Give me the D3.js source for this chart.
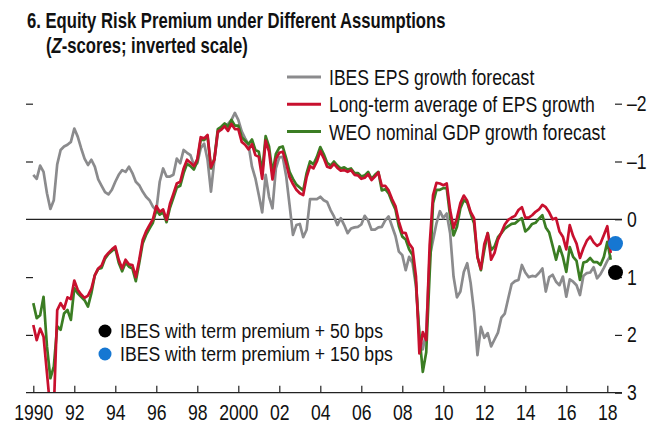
<!DOCTYPE html>
<html>
<head>
<meta charset="utf-8">
<script src="https://cdn.jsdelivr.net/npm/d3@7"></script>
<style>
body{margin:0;background:#fff;}
svg text{font-family:"Liberation Sans",Arial,sans-serif;fill:#111;}
</style>
</head>
<body>
<svg class="chart"></svg>
<script>
var width  = 665;
var height = 427;

// z-scores, one value every two months starting Jan 1990
var startYear = 1990;
var step = 1/6;

var ibes = [
 -0.77,-0.70,-0.93,-0.82,-0.45,-0.18,
 -0.33,-0.95,-1.20,-1.26,-1.29,-1.34,
 -1.57,-1.43,-1.23,-1.05,-0.94,-1.03,
 -0.91,-0.69,-0.58,-0.47,-0.43,-0.51,
 -0.65,-0.77,-0.85,-0.82,-0.91,-0.80,
 -0.65,-0.59,-0.48,-0.39,-0.33,-0.22,
 -0.15,-0.65,-0.88,-0.74,-0.74,-0.77,
 -1.05,-0.97,-1.20,-1.15,-1.11,-0.94,
 -0.97,-1.23,-1.31,-1.03,-0.48,-1.03,
 -1.49,-1.57,-1.63,-1.65,-1.72,-1.84,
 -1.72,-1.52,-1.40,-1.29,-0.91,-0.71,
 -0.42,-0.12,-0.77,-0.39,-0.19,-0.88,
 -1.07,-1.08,-0.75,-0.25, 0.27, 0.10,
  0.08, 0.31, 0.18,-0.35,-0.35,-0.35,
 -0.39,-0.33,-0.30,-0.16,-0.05, 0.10,
 -0.02, 0.10, 0.24, 0.16, 0.14, 0.13,
  0.09,-0.06, 0.02, 0.18, 0.18, 0.14,
  0.13, 0.02,-0.05, 0.12, 0.29, 0.56,
  0.62, 0.88, 0.65, 0.76, 1.16, 2.00,
  2.25, 1.95, 0.65, 0.36, 0.07,-0.14,
 -0.02,-0.10, 0.24, 0.99, 1.35, 1.25,
  0.91, 0.76, 1.10, 1.60, 2.35, 1.86,
  2.05, 1.97, 2.20, 2.08, 1.96, 1.70,
  1.63, 1.37, 1.12, 1.07, 1.05, 0.79,
  0.92, 1.00, 0.98, 0.99, 0.93, 0.85,
  1.25, 1.00, 0.96, 1.08, 1.14, 0.99,
  1.34, 1.04, 1.08, 1.14, 1.31, 0.98,
  0.93, 0.92, 0.83, 1.02, 0.95, 0.84,
  0.72, 0.62
];

var longTermAvg = [
  1.83, 2.09, 1.89, 2.03, 2.66, 3.30,
  3.30, 1.57, 1.45, 1.55, 1.35, 1.38,
  1.06, 1.22, 1.30, 1.36, 1.32, 1.20,
  0.97, 0.85, 0.80, 0.65, 0.58, 0.52,
  0.47, 0.70, 0.85, 0.70, 0.78, 0.79,
  1.00, 0.70, 0.36, 0.21, 0.10, 0.00,
 -0.23,-0.13,-0.17, 0.01,-0.27,-0.44,
 -0.62,-0.65,-0.88,-1.03,-0.98,-0.92,
 -1.04,-1.42,-1.40,-1.46,-0.90,-1.03,
 -1.52,-1.55,-1.61,-1.53,-1.65,-1.56,
 -1.56,-1.34,-1.29,-1.21,-1.30,-1.11,
 -1.08,-0.70,-1.36,-1.17,-0.69,-1.04,
 -1.15,-1.17,-0.97,-0.73,-0.61,-0.51,
 -0.45,-0.42,-0.73,-0.92,-0.88,-1.00,
 -1.18,-1.06,-0.91,-0.89,-0.96,-0.89,
 -0.84,-0.85,-0.82,-0.85,-0.77,-0.76,
 -0.70,-0.72,-0.78,-0.68,-0.74,-0.81,
 -0.58,-0.58,-0.50,-0.35,-0.23, 0.04,
  0.23, 0.24, 0.42, 0.50, 0.99, 2.32,
  1.95, 2.09, 0.45,-0.42,-0.63,-0.62,
 -0.59,-0.62,-0.16, 0.15,-0.02,-0.28,
 -0.41,-0.32,-0.13,-0.02, 0.65, 0.86,
  0.43, 0.24, 0.70, 0.58, 0.35, 0.23,
  0.09, 0.01,-0.03,-0.06,-0.16,-0.21,
 -0.03,-0.03,-0.07,-0.13,-0.17,-0.25,
 -0.21,-0.12, 0.00,-0.02, 0.21, 0.30,
  0.52, 0.10, 0.29, 0.42, 0.67, 0.50,
  0.37, 0.30, 0.40, 0.46, 0.42, 0.27,
  0.12, 0.58
];

var weoGdp = [
  1.45, 1.71, 1.66, 1.34, 2.20, 2.75,
  2.55, 1.85, 1.91, 1.63, 1.57, 1.74,
  1.19, 1.28, 1.34, 1.40, 1.51, 1.28,
  0.97, 0.86, 0.84, 0.68, 0.60, 0.55,
  0.50, 0.75, 0.90, 0.75, 0.82, 0.85,
  1.07, 0.76, 0.42, 0.27, 0.16, 0.06,
 -0.16,-0.08,-0.12, 0.05,-0.20,-0.37,
 -0.55,-0.58,-0.80,-0.96,-0.92,-0.86,
 -1.00,-1.38,-1.37,-1.44,-0.88,-1.05,
 -1.56,-1.60,-1.66,-1.60,-1.72,-1.62,
 -1.62,-1.42,-1.36,-1.30,-1.38,-1.20,
 -1.17,-0.82,-1.44,-1.26,-0.80,-1.13,
 -1.24,-1.26,-1.06,-0.82,-0.70,-0.60,
 -0.55,-0.50,-0.80,-1.00,-0.95,-1.08,
 -1.25,-1.13,-0.98,-0.93,-1.00,-0.93,
 -0.88,-0.90,-0.86,-0.88,-0.80,-0.80,
 -0.74,-0.76,-0.82,-0.70,-0.77,-0.82,
 -0.50,-0.52,-0.45,-0.30,-0.17, 0.12,
  0.30, 0.35, 0.52, 0.62, 1.10, 2.00,
  2.64, 2.30, 0.95,-0.28,-0.51,-0.51,
 -0.54,-0.54,-0.05, 0.28, 0.13,-0.19,
 -0.33,-0.29,-0.10, 0.07, 0.65, 0.88,
  0.53, 0.24, 0.53, 0.47, 0.31, 0.24,
  0.16, 0.12, 0.08, 0.07, 0.02,-0.02,
  0.21, 0.16, 0.08, 0.06,-0.01,-0.07,
  0.14, 0.23, 0.46, 0.70, 0.47, 0.65,
  0.91, 0.48, 0.65, 0.72, 1.05, 0.75,
  0.73, 0.67, 0.74, 0.74, 0.79, 0.65,
  0.39, 0.70
];

var lineNames = ["IBES EPS growth forecast","Long-term average of EPS growth","WEO nominal GDP growth forecast"];
var dotNames  = ["IBES with term premium + 50 bps","IBES with term premium + 150 bps"];
var dotValues = [0.92, 0.42];
var dotYear   = 2018.4;

var yearTicks = d3.range(1990, 2019, 2);
var zTicks    = [-2,-1,0,1,2,3];

var lineColors = ["#8b8b8d","#c8102e","#3b7d23"];
var dotColors  = ["#000000","#1677d2"];

// the reference font is a condensed sans, squeeze a regular one
function squeeze(sel,k,origin){
    sel.style("transform-box","fill-box")
       .style("transform-origin",origin)
       .style("transform",`scaleX(${k})`);
}

var svg = d3.select('.chart')
    .attr("width",width)
    .attr("height",height)

var xscale = d3.scaleLinear()
    .domain([1990,2018])
    .range([33.3,607.3]);

var yscale = d3.scaleLinear()
    .domain([-2,3])
    .range([103.7,392.7]);

var left = 26, right = 622;

// title
svg.append('text')
    .attr("x",27).attr("y",28)
    .style("font-weight","bold")
    .style("font-size","21.5px")
    .text("6. Equity Risk Premium under Different Assumptions")
    .call(squeeze,0.775,"left")

var sub = svg.append('text')
    .attr("x",46).attr("y",53)
    .style("font-weight","bold")
    .style("font-size","21.5px")
sub.append('tspan').text("(")
sub.append('tspan').style("font-style","italic").text("Z")
sub.append('tspan').text("-scores; inverted scale)")
sub.call(squeeze,0.775,"left")

svg.append('defs').append('clipPath')
    .attr("id","plotClip")
    .append('rect')
    .attr("x",left).attr("y",60)
    .attr("width",right-left)
    .attr("height",yscale(3)-60)

// zero line
svg.append('line')
    .attr("x1",left).attr("x2",right)
    .attr("y1",yscale(0)).attr("y2",yscale(0))
    .attr("stroke","#222").attr("stroke-width",1.2)

var line = d3.line()
    .x((d,i)=>xscale(startYear+i*step))
    .y(d=>yscale(d));

var allSeries = [ibes,weoGdp,longTermAvg];
var allColors = [lineColors[0],lineColors[2],lineColors[1]];

svg.append('g')
    .attr("clip-path","url(#plotClip)")
    .selectAll('path')
    .data(allSeries)
    .enter()
    .append('path')
    .attr("d",line)
    .attr("fill","none")
    .attr("stroke",(d,i)=>allColors[i])
    .attr("stroke-width",2.7)
    .attr("stroke-linejoin","round")

// axes
var xAxis = d3.axisBottom(xscale)
    .tickValues(yearTicks)
    .tickSizeInner(-7)
    .tickSizeOuter(0)
    .tickPadding(12)
    .tickFormat(d=> d===2000 || d===1990 ? d : String(d).slice(2));

svg.append('g')
    .classed('xAxis',true)
    .attr("transform",`translate(0,${yscale(3)})`)
    .call(xAxis)

var yAxisRight = d3.axisRight(yscale)
    .tickValues(zTicks)
    .tickSizeInner(-7)
    .tickSizeOuter(0)
    .tickPadding(5)
    .tickFormat(d=> d<0 ? "\u2013"+Math.abs(d) : d);

svg.append('g')
    .classed('yAxisRight',true)
    .attr("transform",`translate(${right},0)`)
    .call(yAxisRight)

var yAxisLeft = d3.axisLeft(yscale)
    .tickValues([-2,-1,1,2])
    .tickSizeInner(-7)
    .tickSizeOuter(0)
    .tickFormat("");

svg.append('g')
    .classed('yAxisLeft',true)
    .attr("transform",`translate(${left},0)`)
    .call(yAxisLeft)

svg.selectAll('.domain').remove();
svg.selectAll('.tick line').attr("stroke","#222").attr("stroke-width",1.2);
svg.selectAll('.tick text')
    .attr("fill","#111")
    .style("font-size","22px")
    .style("font-family",null);
svg.selectAll('.xAxis .tick text').call(squeeze,0.8,"center");
svg.selectAll('.yAxisRight .tick text').call(squeeze,0.8,"left");

// x baseline
svg.append('line')
    .attr("x1",left).attr("x2",right)
    .attr("y1",yscale(3)).attr("y2",yscale(3))
    .attr("stroke","#222").attr("stroke-width",1.2)

// end-point dots
svg.selectAll('.endDot')
    .data(dotValues)
    .enter()
    .append('circle')
    .classed('endDot',true)
    .attr("cx",xscale(dotYear))
    .attr("cy",d=>yscale(d))
    .attr("r",7.5)
    .attr("fill",(d,i)=>dotColors[i])

// line legend
var legend = svg.append('g').attr("transform","translate(287,77)")
legend.selectAll('line')
    .data(lineNames)
    .enter()
    .append('line')
    .attr("x1",0).attr("x2",34)
    .attr("y1",(d,i)=>i*27.3).attr("y2",(d,i)=>i*27.3)
    .attr("stroke",(d,i)=>lineColors[i])
    .attr("stroke-width",3)
legend.selectAll('text')
    .data(lineNames)
    .enter()
    .append('text')
    .attr("x",42)
    .attr("y",(d,i)=>i*27.3+8)
    .style("font-size","22px")
    .text(d=>d)
    .call(squeeze,0.8,"left")

// dot legend
var dotLegend = svg.append('g').attr("transform","translate(105,331)")
dotLegend.selectAll('circle')
    .data(dotNames)
    .enter()
    .append('circle')
    .attr("cx",0)
    .attr("cy",(d,i)=>i*23)
    .attr("r",6.5)
    .attr("fill",(d,i)=>dotColors[i])
dotLegend.selectAll('text')
    .data(dotNames)
    .enter()
    .append('text')
    .attr("x",15)
    .attr("y",(d,i)=>i*23+7.2)
    .style("font-size","20.5px")
    .text(d=>d)
    .call(squeeze,0.86,"left")
</script>
</body>
</html>
